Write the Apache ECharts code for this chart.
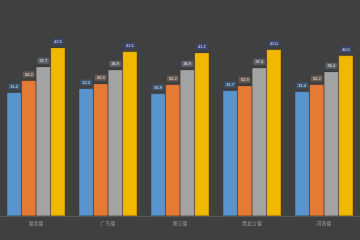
<!DOCTYPE html>
<html><head><meta charset="utf-8">
<script src="https://cdn.jsdelivr.net/npm/echarts@6/dist/echarts.min.js"></script>
<style>html,body{margin:0;padding:0;background:#404040}#c{width:360px;height:240px}</style>
</head><body><div id="c"></div>
<script>
const categories = ['湖北省', '广东省', '浙江省', '黑龙江省', '河南省'];
const seriesNames = ['系列1', '系列2', '系列3', '系列4'];
const s1 = [31.2, 32.2, 30.9, 31.7, 31.4];
const s2 = [34.2, 33.4, 33.2, 32.9, 33.2];
const s3 = [37.7, 36.9, 36.9, 37.4, 36.4];
const s4 = [42.5, 41.5, 41.2, 42.0, 40.5];
const colors = ['#5895cf', '#e47a33', '#a3a3a3', '#f2b800'];
const labelBg = ['#3b5673', '#6b5a52', '#5d6168', '#3a4570'];
const data = [s1, s2, s3, s4];
const chart = echarts.init(document.getElementById('c'), null, {renderer: 'canvas'});
chart.setOption({
  backgroundColor: '#404040',
  animation: false,
  grid: {left: 0, right: 0, top: 10, bottom: 24},
  xAxis: {
    type: 'category', data: categories,
    axisLine: {lineStyle: {color: '#595959'}},
    axisTick: {show: false},
    axisLabel: {color: '#a0a0a0', fontSize: 5, margin: 5, fontFamily: 'Noto Sans CJK SC'}
  },
  yAxis: {type: 'value', min: 0, max: 52, show: false, splitLine: {show: false}},
  series: data.map((d, i) => ({
    name: seriesNames[i], type: 'bar', data: d,
    barGap: '0%', barCategoryGap: '19%',
    itemStyle: {color: colors[i], borderColor: 'rgba(0,0,0,0.25)', borderWidth: 0.5},
    label: {
      show: true, position: 'top', distance: 3,
      formatter: p => p.value.toFixed(1),
      fontSize: 4, color: '#e8e8e8',
      backgroundColor: labelBg[i], padding: [1, 2],
      borderRadius: 1
    }
  }))
});
</script></body></html>
